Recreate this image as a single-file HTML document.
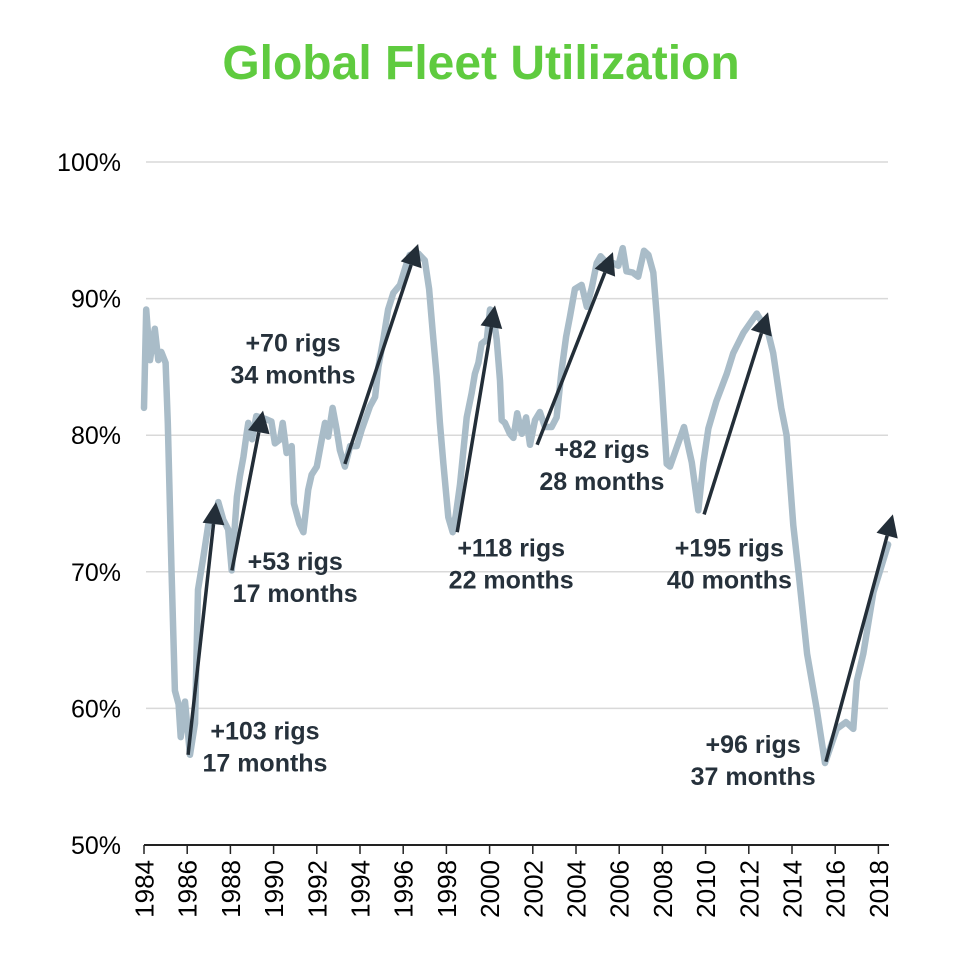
<!DOCTYPE html>
<html><head><meta charset="utf-8"><style>
html,body{margin:0;padding:0;background:#fff;}
svg{display:block;font-family:"Liberation Sans",Arial,sans-serif;}
</style></head><body>
<svg id="chart" width="956" height="970" viewBox="0 0 956 970" xmlns="http://www.w3.org/2000/svg">
<text x="481" y="79" text-anchor="middle" font-size="48" font-weight="bold" fill="#5fcb3f">Global Fleet Utilization</text>
<g id="grid"></g>
<g id="yaxis"></g>
<g id="xaxis"></g>
<g id="series"></g>
<g id="annots"></g>
</svg>
<script>
const years = [1984.0,1984.1,1984.28,1984.5,1984.66,1984.8,1985.0,1985.1,1985.28,1985.43,1985.6,1985.7,1985.9,1986.13,1986.36,1986.5,1986.75,1986.98,1987.3,1987.44,1987.67,1987.9,1988.06,1988.3,1988.44,1988.6,1988.75,1988.83,1989.0,1989.2,1989.6,1989.9,1990.06,1990.3,1990.42,1990.6,1990.84,1990.94,1991.2,1991.38,1991.6,1991.76,1992.0,1992.23,1992.38,1992.53,1992.73,1992.92,1993.07,1993.3,1993.54,1993.85,1994.08,1994.46,1994.7,1994.85,1995.08,1995.3,1995.54,1995.85,1996.1,1996.3,1996.7,1997.0,1997.2,1997.37,1997.55,1997.7,1997.86,1998.09,1998.29,1998.44,1998.63,1998.94,1999.17,1999.32,1999.48,1999.63,1999.87,2000.02,2000.14,2000.33,2000.48,2000.56,2000.71,2000.94,2001.1,2001.28,2001.49,2001.69,2001.87,2002.1,2002.33,2002.56,2002.87,2003.1,2003.34,2003.54,2003.72,2003.95,2004.26,2004.5,2004.73,2004.96,2005.14,2005.42,2005.73,2005.96,2006.16,2006.34,2006.63,2006.88,2007.15,2007.35,2007.58,2007.73,2007.96,2008.2,2008.35,2008.66,2009.0,2009.36,2009.66,2009.9,2010.13,2010.5,2010.98,2011.28,2011.75,2012.37,2012.9,2013.13,2013.5,2013.75,2014.06,2014.3,2014.7,2015.14,2015.53,2016.07,2016.5,2016.84,2017.0,2017.3,2017.77,2018.45];
const utilization = [82,89.2,85.5,87.8,85.5,86.1,85.3,80.9,69.9,61.3,60.3,57.9,60.5,56.6,58.9,68.7,71.1,73.5,73.8,75.1,73.8,73.1,70.1,75.5,77,78.4,80.1,80.9,79.7,81.4,81.2,81,79.4,79.7,80.9,78.7,79.2,75,73.5,72.9,76,77.1,77.7,79.7,80.9,79.9,82,80.4,78.9,77.7,79.2,79.2,80.4,82.1,82.8,85,87,89.2,90.4,91,92.3,93.2,93.3,92.8,90.7,87.5,84.3,80.9,77.9,74,72.9,74.2,76.4,81.3,83.1,84.5,85.3,86.7,87,89.2,89.1,87,84,81.1,80.9,80.1,79.8,81.6,80.1,81.3,79.3,81.1,81.7,80.6,80.6,81.3,84.8,87.2,88.7,90.7,91,89.4,90.8,92.6,93.1,92.6,92.6,92.4,93.7,92,91.9,91.6,93.5,93.2,91.9,88.9,84,77.9,77.7,79.1,80.6,78,74.5,78,80.5,82.5,84.5,86,87.5,88.9,87.5,86,82,80,73.4,70,64,60,56,58.5,59,58.5,62,64,68.5,72];
const yTicks = [50,60,70,80,90,100];
const yTickLabels = ["50%","60%","70%","80%","90%","100%"];
const xTicks = [1984,1986,1988,1990,1992,1994,1996,1998,2000,2002,2004,2006,2008,2010,2012,2014,2016,2018];
const arrowStartYear = [1986.04,1988.07,1993.3,1998.5,2002.2,2009.93,2015.57];
const arrowStartVal = [56.6,70.1,77.9,72.9,79.3,74.2,56.1];
const arrowEndYear = [1987.33,1989.51,1996.69,2000.25,2005.71,2012.89,2018.67];
const arrowEndVal = [75.1,81.8,94.0,89.5,93.4,89.0,74.2];
const annotRigs = ["+103 rigs","+53 rigs","+70 rigs","+118 rigs","+82 rigs","+195 rigs","+96 rigs"];
const annotMonths = ["17 months","17 months","34 months","22 months","28 months","40 months","37 months"];
const annotYear = [1989.6,1991.0,1990.9,2001.0,2005.2,2011.1,2012.2];
const annotVal = [57.8,70.2,86.2,71.2,78.4,71.2,56.8];

const NS="http://www.w3.org/2000/svg";
const X0=144, PX_YR=21.6, Y0=845, PX_PCT=13.66;
function xs(yr){return X0+(yr-1984)*PX_YR;}
function ys(v){return Y0-(v-50)*PX_PCT;}
function mk(tag,attrs,parent){const e=document.createElementNS(NS,tag);for(const k in attrs)e.setAttribute(k,attrs[k]);parent.appendChild(e);return e;}

const grid=document.getElementById('grid'), ya=document.getElementById('yaxis'), xa=document.getElementById('xaxis'), ser=document.getElementById('series'), an=document.getElementById('annots');

yTicks.forEach((t,i)=>{
  if(t>50){
    const g=mk('line',{x1:146,x2:888,y1:ys(t),y2:ys(t),stroke:'#d9d9d9','stroke-width':1.5},grid);
    
    
  }
  const tx=mk('text',{x:121,y:ys(t)+9,'text-anchor':'end','font-size':25,fill:'#000'},ya);
  tx.textContent=yTickLabels[i];
  
  
});

const ax=mk('line',{x1:144,x2:889,y1:Y0,y2:Y0,stroke:'#222','stroke-width':2},xa);


xTicks.forEach(t=>{
  const x=xs(t);
  const tk=mk('line',{x1:x,x2:x,y1:Y0,y2:Y0+9,stroke:'#222','stroke-width':1.5},xa);
  
  
  const tx=mk('text',{x:0,y:0,'text-anchor':'end','font-size':26,fill:'#000',transform:'translate('+(x+9.5)+',860) rotate(-90)'},xa);
  tx.textContent=String(t);
  
  
});

const d=years.map((y,i)=>(i?'L':'M')+xs(y).toFixed(1)+','+ys(utilization[i]).toFixed(1)).join(' ');
const p=mk('path',{d:d,fill:'none',stroke:'#a9bcc8','stroke-width':6.5,'stroke-linejoin':'round','stroke-linecap':'round'},ser);



arrowStartYear.forEach((sy,i)=>{
  const x1=xs(sy), y1=ys(arrowStartVal[i]), x2=xs(arrowEndYear[i]), y2=ys(arrowEndVal[i]);
  const dx=x2-x1, dy=y2-y1, L=Math.hypot(dx,dy), ux=dx/L, uy=dy/L;
  const hl=22, hw=11;
  const bx=x2-ux*hl, by=y2-uy*hl;
  const ln=mk('line',{x1:x1,y1:y1,x2:bx,y2:by,stroke:'#232e38','stroke-width':3.5},an);
  
  
  const hd=mk('polygon',{points:x2+','+y2+' '+(bx-uy*hw)+','+(by+ux*hw)+' '+(bx+uy*hw)+','+(by-ux*hw),fill:'#232e38'},an);
  
  
  const t=mk('text',{x:xs(annotYear[i]),y:ys(annotVal[i])+1,'text-anchor':'middle','font-size':25,'font-weight':'bold',fill:'#26313b'},an);
  
  
  const s1=mk('tspan',{x:xs(annotYear[i]),dy:0},t); s1.textContent=annotRigs[i];
  const s2=mk('tspan',{x:xs(annotYear[i]),dy:32},t); s2.textContent=annotMonths[i];
});
</script>
</body></html>
